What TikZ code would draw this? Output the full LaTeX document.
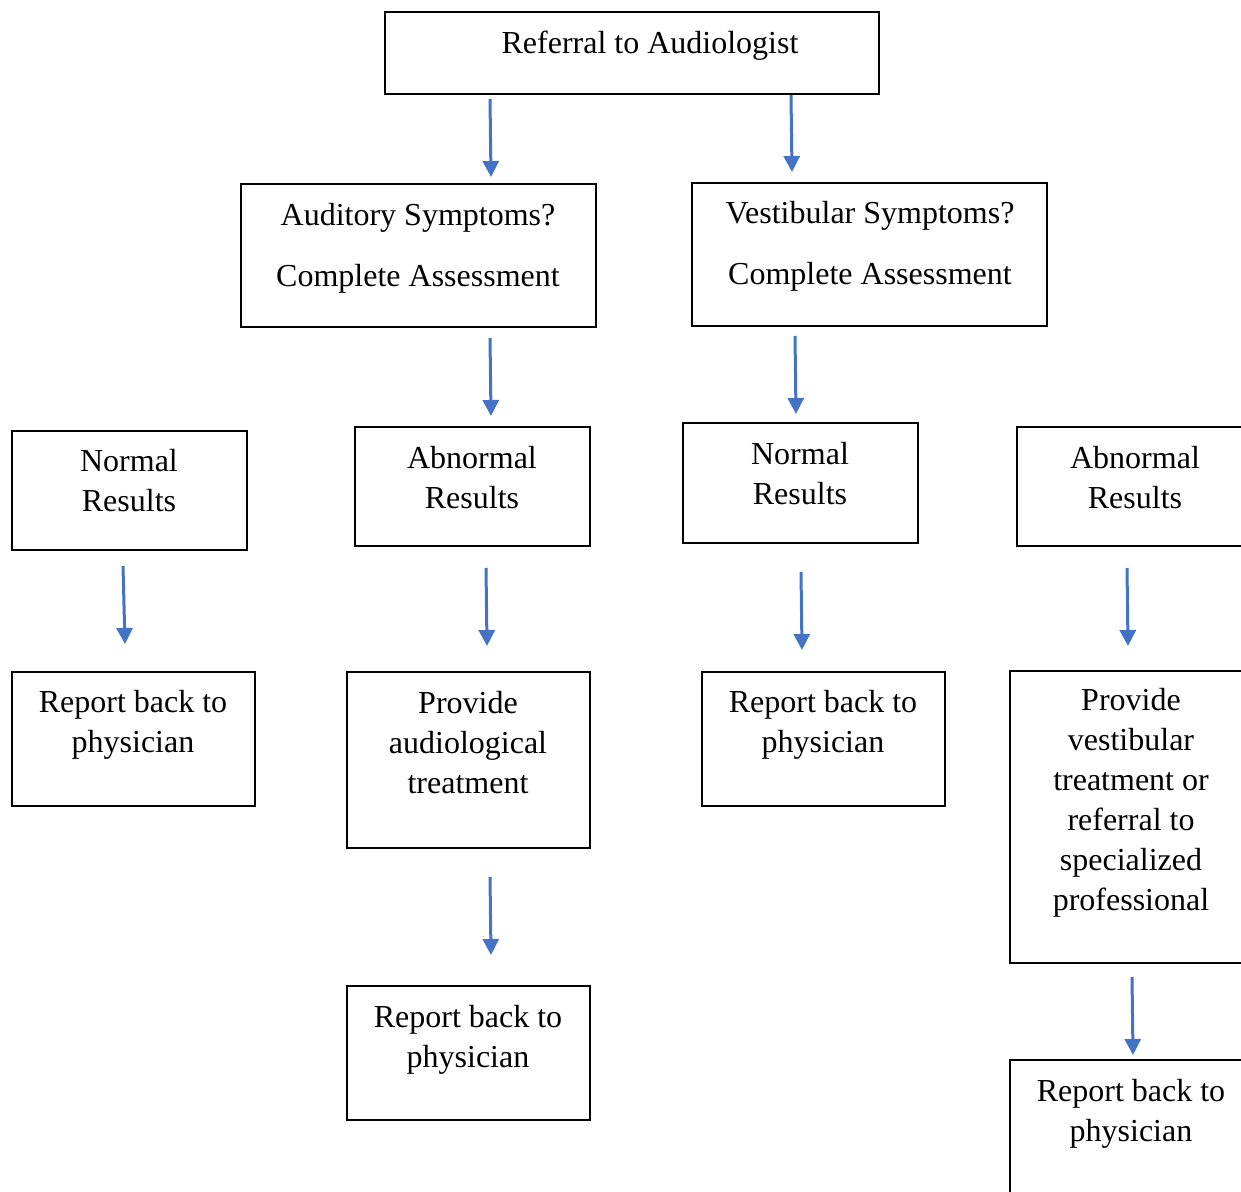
\documentclass[tikz,border=0pt]{standalone}
\usepackage{fontspec}
\setmainfont{Liberation Serif}
\usetikzlibrary{arrows.meta}
\definecolor{arrblue}{HTML}{4472C4}
\begin{document}
\begin{tikzpicture}[x=0.5pt,y=-0.5pt,
  box/.style={draw=black,line width=1pt},
  txt/.style={font=\fontsize{16pt}{20pt}\selectfont,align=center,inner sep=0pt},
  arr/.style={draw=arrblue,line width=1.5pt,-{Triangle[width=8pt,length=8pt]}}]
\useasboundingbox (0,0) rectangle (1241,1192);
\clip (0,0) rectangle (1241,1192);
% boxes
\draw[box] (385,12) rectangle (879,94);
\draw[box] (241,184) rectangle (596,327);
\draw[box] (692,183) rectangle (1047,326);
\draw[box] (12,431) rectangle (247,550);
\draw[box] (355,427) rectangle (590,546);
\draw[box] (683,423) rectangle (918,543);
\draw[box] (1017,427) rectangle (1260,546);
\draw[box] (12,672) rectangle (255,806);
\draw[box] (347,672) rectangle (590,848);
\draw[box] (702,672) rectangle (945,806);
\draw[box] (1010,671) rectangle (1260,963);
\draw[box] (347,986) rectangle (590,1120);
\draw[box] (1010,1060) rectangle (1260,1220);
% texts
\node[txt] (t1) at (650,46) {Referral to Audiologist};
\node[txt] (t2a) at (418,218) {Auditory Symptoms?};
\node[txt] (t2b) at (418,279) {Complete Assessment};
\node[txt] (t3a) at (870,216) {Vestibular Symptoms?};
\node[txt] (t3b) at (870,277) {Complete Assessment};
\node[txt] (t4) at (129,481) {Normal\\Results};
\node[txt] (t5) at (472,478) {Abnormal\\Results};
\node[txt] (t6) at (800,474) {Normal\\Results};
\node[txt] (t7) at (1135,478) {Abnormal\\Results};
\node[txt] (t8) at (133,725) {Report back to\\physician};
\node[txt] (t9) at (468,743) {Provide\\audiological\\treatment};
\node[txt] (t10) at (823,725) {Report back to\\physician};
\node[txt] (t11) at (1131,803) {Provide\\vestibular\\treatment or\\referral to\\specialized\\professional};
\node[txt] (t12) at (468,1039.5) {Report back to\\physician};
\node[txt] (t13) at (1131,1114) {Report back to\\physician};
% arrows
\coordinate (a1s) at (490,99);   \coordinate (a1e) at (491,177);
\coordinate (a2s) at (791,95);   \coordinate (a2e) at (792,172);
\coordinate (a3s) at (490,338);  \coordinate (a3e) at (491,416);
\coordinate (a4s) at (795,336);  \coordinate (a4e) at (796,414);
\coordinate (a5s) at (123,566);  \coordinate (a5e) at (125,644);
\coordinate (a6s) at (486,568);  \coordinate (a6e) at (487,646);
\coordinate (a7s) at (801,572);  \coordinate (a7e) at (802,650);
\coordinate (a8s) at (1127,568); \coordinate (a8e) at (1128,646);
\coordinate (a9s) at (490,877);  \coordinate (a9e) at (491,955);
\coordinate (a10s) at (1132,977); \coordinate (a10e) at (1133,1055);
\foreach \i in {1,...,10} {\draw[arr] (a\i s) -- (a\i e);}
\end{tikzpicture}
\end{document}
